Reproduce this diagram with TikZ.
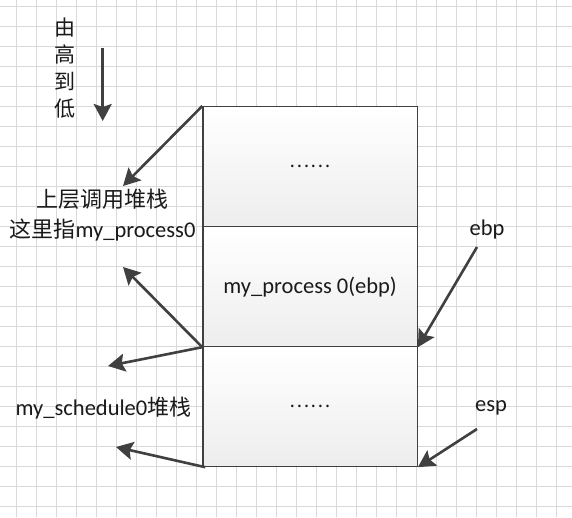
\documentclass[tikz,border=0pt]{standalone}
\usepackage{fontspec}
\setmainfont{Carlito}
\newfontfamily\cjk{Noto Sans CJK SC}
\usetikzlibrary{arrows.meta}
\definecolor{gridc}{HTML}{D9D9D9}
\definecolor{arrc}{HTML}{404040}
\definecolor{txtc}{HTML}{1A1A1A}
\tikzset{
  stackbox/.style={draw=arrc, line width=1.2pt, rectangle, top color=white, bottom color=black!7,
    minimum width=214.4pt, minimum height=120pt, anchor=north west, inner sep=0pt, text=txtc},
  bigarrow/.style={draw=arrc, line width=2.6pt, -{Stealth[length=17pt,width=18pt,inset=3pt]}},
  lbl/.style={text=txtc, inner sep=0pt, font=\fontsize{22.5}{26}\selectfont},
  cjklbl/.style={text=txtc, inner sep=0pt, font=\fontsize{22}{26}\selectfont\cjk}
}
\newcommand{\zh}[1]{{\cjk\fontsize{22}{26}\selectfont #1}}
\begin{document}
\begin{tikzpicture}[x=1pt,y=-1pt]
\useasboundingbox (0,0) rectangle (572,517);
\fill[white] (0,0) rectangle (572,517);
\foreach \i in {0,...,27} \draw[gridc, line width=1pt] (16.7+20*\i,0) -- (16.7+20*\i,517);
\foreach \j in {0,...,25} \draw[gridc, line width=1pt] (0,6+20*\j) -- (572,6+20*\j);

\node[stackbox] (b1) at (202.3,106) {\fontsize{19}{22}\cjk ……};
\node[stackbox] (b2) at (202.3,226) {\fontsize{22.5}{26}\selectfont my\_process 0(ebp)};
\node[stackbox] (b3) at (202.3,346) {\fontsize{19}{22}\cjk ……};

\node[cjklbl, align=center, font=\fontsize{21}{27}\selectfont\cjk] (dir) at (65,68) {由\\高\\到\\低};
\node[cjklbl] (up1) at (102.5,199) {上层调用堆栈};
\node[lbl] (up2) at (102.5,230) {\zh{这里指}my\_process0};
\node[lbl] (sch) at (103.5,408) {my\_schedule0\zh{堆栈}};
\node[lbl] (ebp) at (487,229) {ebp};
\node[lbl] (esp) at (491,408) {esp};

\coordinate (d0) at (102.7,48);
\coordinate (d1) at (102.7,121);
\coordinate (t1) at (123,186);
\coordinate (t2) at (123,267);
\coordinate (t3) at (108,366);
\coordinate (t4) at (116,447);
\coordinate (e0) at (477,247);
\coordinate (s0) at (477,429);

\draw[bigarrow] (d0) -- (d1);
\draw[bigarrow] (b1.north west) -- (t1);
\draw[bigarrow] (b2.south west) -- (t2);
\draw[bigarrow] (b2.south west) -- (t3);
\draw[bigarrow] ([xshift=3pt]b3.south west) -- (t4);
\draw[bigarrow] (e0) -- (b2.south east);
\draw[bigarrow] (s0) -- (b3.south east);
\end{tikzpicture}
\end{document}
